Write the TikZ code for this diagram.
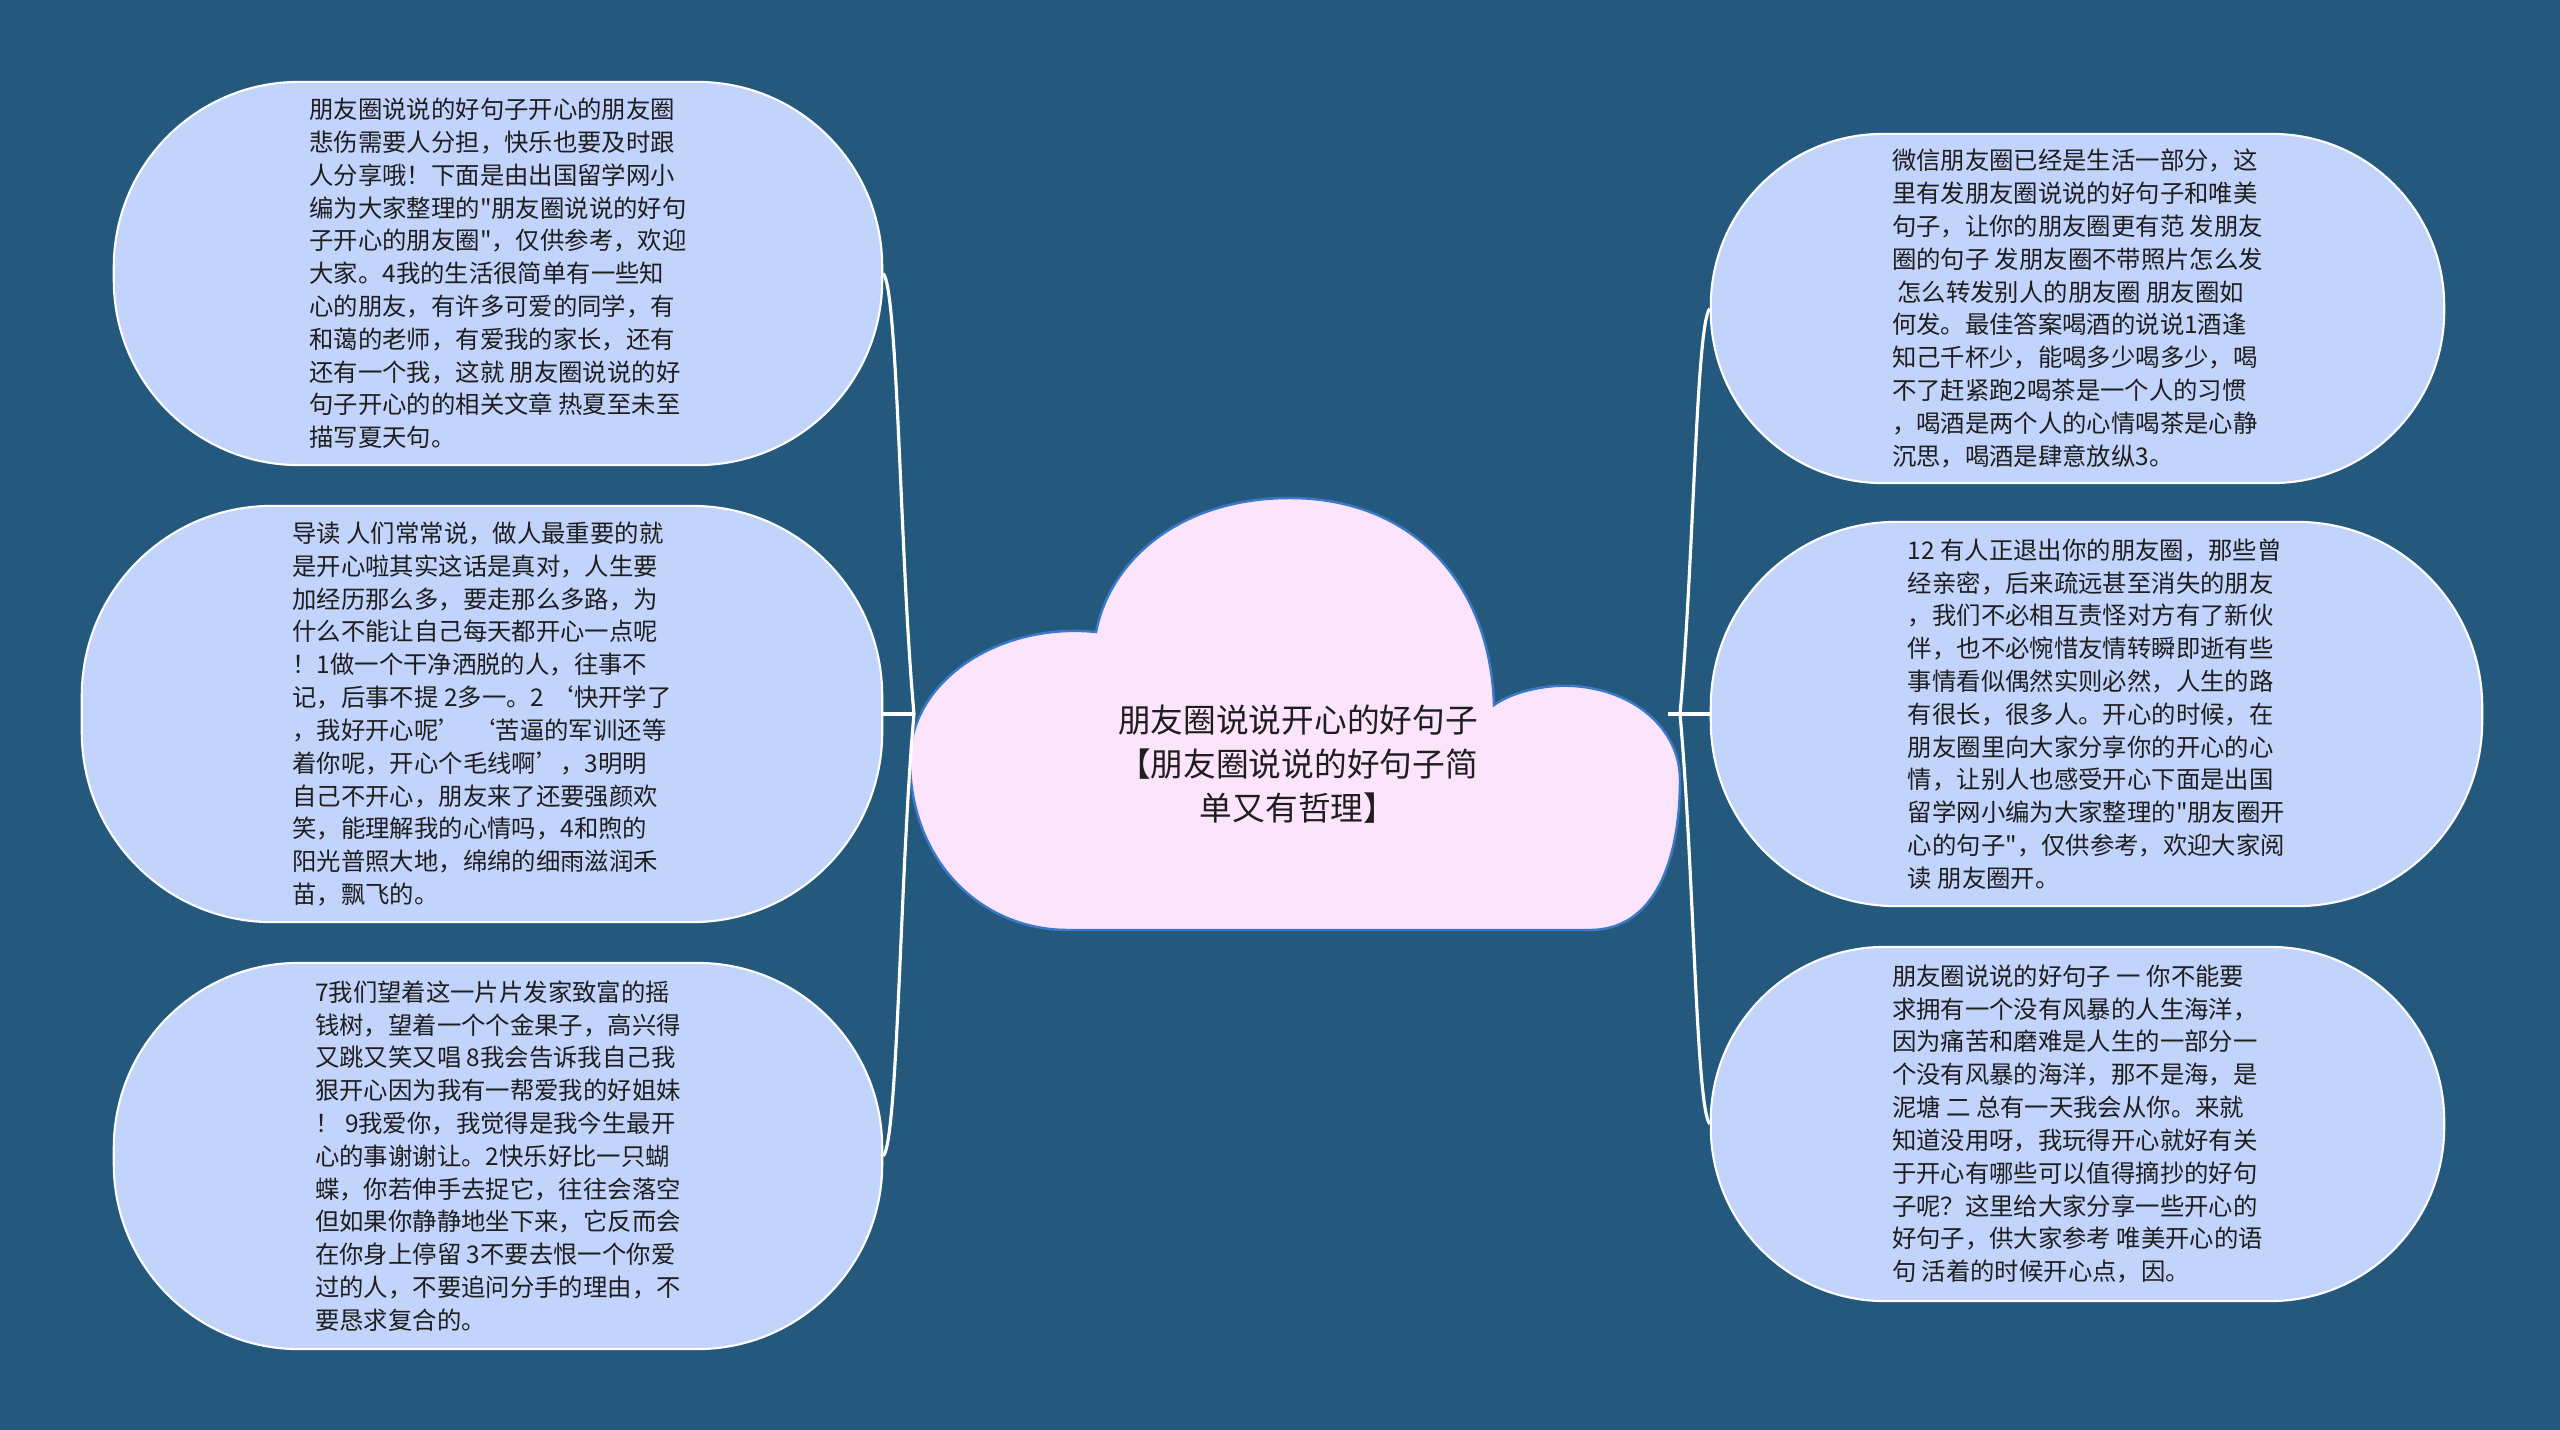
\documentclass[tikz,border=0pt]{standalone}
\usepackage{fontspec}
\setmainfont{Noto Sans CJK SC}[Ligatures=TeXOff]
\definecolor{bg}{RGB}{36,89,125}
\definecolor{nodefill}{RGB}{194,212,251}
\definecolor{cloudfill}{RGB}{253,228,253}
\definecolor{cloudline}{RGB}{58,120,200}
\definecolor{txt}{RGB}{30,30,30}
\tikzset{
  leaf/.style={draw=white, line width=0.6pt, fill=nodefill, text=txt, align=left,
    font=\fontsize{6.93pt}{9.33pt}\selectfont, inner sep=0pt},
  link/.style={draw=white, line width=0.9pt},
  cloudshape/.style={fill=cloudfill, draw=cloudline, line width=0.7pt},
  cloudtext/.style={text=txt, align=center, font=\fontsize{9.3pt}{12.5pt}\selectfont, inner sep=0pt},
}
\begin{document}
\begin{tikzpicture}[x=0.01cm,y=-0.01cm]
\fill[bg] (0,0) rectangle (2560,1430);
\useasboundingbox (0,0) rectangle (2560,1430);

% central cloud
\path[cloudshape] (1068,930) -- (1590,930)
  .. controls (1655,930) and (1680,860) .. (1680,780)
  .. controls (1680,722) and (1622,682) .. (1555,686)
  .. controls (1530,688) and (1508,695) .. (1494,705)
  .. controls (1490,580) and (1410,498) .. (1290,498)
  .. controls (1180,498) and (1110,560) .. (1096,632)
  .. controls (1000,622) and (910,680) .. (910,760)
  .. controls (910,860) and (980,930) .. (1068,930) -- cycle;
\node[cloudtext] (C) at (1298,764) {朋友圈说说开心的好句子\\【朋友圈说说的好句子简\\单又有哲理】};
\coordinate (jl) at (914,714);
\coordinate (cr) at (1668,714);
\coordinate (jr) at (1680,714);

% left nodes
\node[leaf, minimum width=7.68cm, minimum height=3.83cm, rounded corners=1.85cm] (L1) at (498,273.5) {朋友圈说说的好句子开心的朋友圈\\悲伤需要人分担，快乐也要及时跟\\人分享哦！下面是由出国留学网小\\编为大家整理的"朋友圈说说的好句\\子开心的朋友圈"，仅供参考，欢迎\\大家。4我的生活很简单有一些知\\心的朋友，有许多可爱的同学，有\\和蔼的老师，有爱我的家长，还有\\还有一个我，这就 朋友圈说说的好\\句子开心的的相关文章 热夏至未至\\描写夏天句。};

\node[leaf, minimum width=8.00cm, minimum height=4.16cm, rounded corners=1.9cm] (L2) at (482,714) {导读 人们常常说，做人最重要的就\\是开心啦其实这话是真对，人生要\\加经历那么多，要走那么多路，为\\什么不能让自己每天都开心一点呢\\！1做一个干净洒脱的人，往事不\\记，后事不提 2多一。2 ‘快开学了\\，我好开心呢’\hspace{2.4pt}‘苦逼的军训还等\\着你呢，开心个毛线啊’，3明明\\自己不开心，朋友来了还要强颜欢\\笑，能理解我的心情吗，4和煦的\\阳光普照大地，绵绵的细雨滋润禾\\苗，飘飞的。};

\node[leaf, minimum width=7.68cm, minimum height=3.86cm, rounded corners=1.85cm] (L3) at (498,1156) {7我们望着这一片片发家致富的摇\\钱树，望着一个个金果子，高兴得\\又跳又笑又唱 8我会告诉我自己我\\狠开心因为我有一帮爱我的好姐妹\\！ 9我爱你，我觉得是我今生最开\\心的事谢谢让。2快乐好比一只蝴\\蝶，你若伸手去捉它，往往会落空\\但如果你静静地坐下来，它反而会\\在你身上停留 3不要去恨一个你爱\\过的人，不要追问分手的理由，不\\要恳求复合的。};

% right nodes
\node[leaf, minimum width=7.33cm, minimum height=3.49cm, rounded corners=1.72cm] (R1) at (2077.5,308.5) {微信朋友圈已经是生活一部分，这\\里有发朋友圈说说的好句子和唯美\\句子，让你的朋友圈更有范 发朋友\\圈的句子 发朋友圈不带照片怎么发\\\ 怎么转发别人的朋友圈 朋友圈如\\何发。最佳答案喝酒的说说1酒逢\\知己千杯少，能喝多少喝多少，喝\\不了赶紧跑2喝茶是一个人的习惯\\，喝酒是两个人的心情喝茶是心静\\沉思，喝酒是肆意放纵3。};

\node[leaf, minimum width=7.71cm, minimum height=3.84cm, rounded corners=1.85cm] (R2) at (2096.5,714) {12 有人正退出你的朋友圈，那些曾\\经亲密，后来疏远甚至消失的朋友\\，我们不必相互责怪对方有了新伙\\伴，也不必惋惜友情转瞬即逝有些\\事情看似偶然实则必然，人生的路\\有很长，很多人。开心的时候，在\\朋友圈里向大家分享你的开心的心\\情，让别人也感受开心下面是出国\\留学网小编为大家整理的"朋友圈开\\心的句子"，仅供参考，欢迎大家阅\\读 朋友圈开。};

\node[leaf, minimum width=7.33cm, minimum height=3.54cm, rounded corners=1.74cm] (R3) at (2077.5,1124) {朋友圈说说的好句子 一 你不能要\\求拥有一个没有风暴的人生海洋，\\因为痛苦和磨难是人生的一部分一\\个没有风暴的海洋，那不是海，是\\泥塘 二 总有一天我会从你。来就\\知道没用呀，我玩得开心就好有关\\于开心有哪些可以值得摘抄的好句\\子呢？这里给大家分享一些开心的\\好句子，供大家参考 唯美开心的语\\句 活着的时候开心点，因。};

% connectors left
\draw[link] (L1.east) .. controls (898,290) and (900,560) .. (jl);
\draw[link] (L2.east) -- (jl);
\draw[link] (L3.east) .. controls (898,1140) and (900,870) .. (jl);
% connectors right
\draw[link] (cr) -- (R2.west);
\draw[link] (jr) .. controls (1694,560) and (1696,325) .. (R1.west);
\draw[link] (jr) .. controls (1694,870) and (1696,1108) .. (R3.west);
\end{tikzpicture}
\end{document}
